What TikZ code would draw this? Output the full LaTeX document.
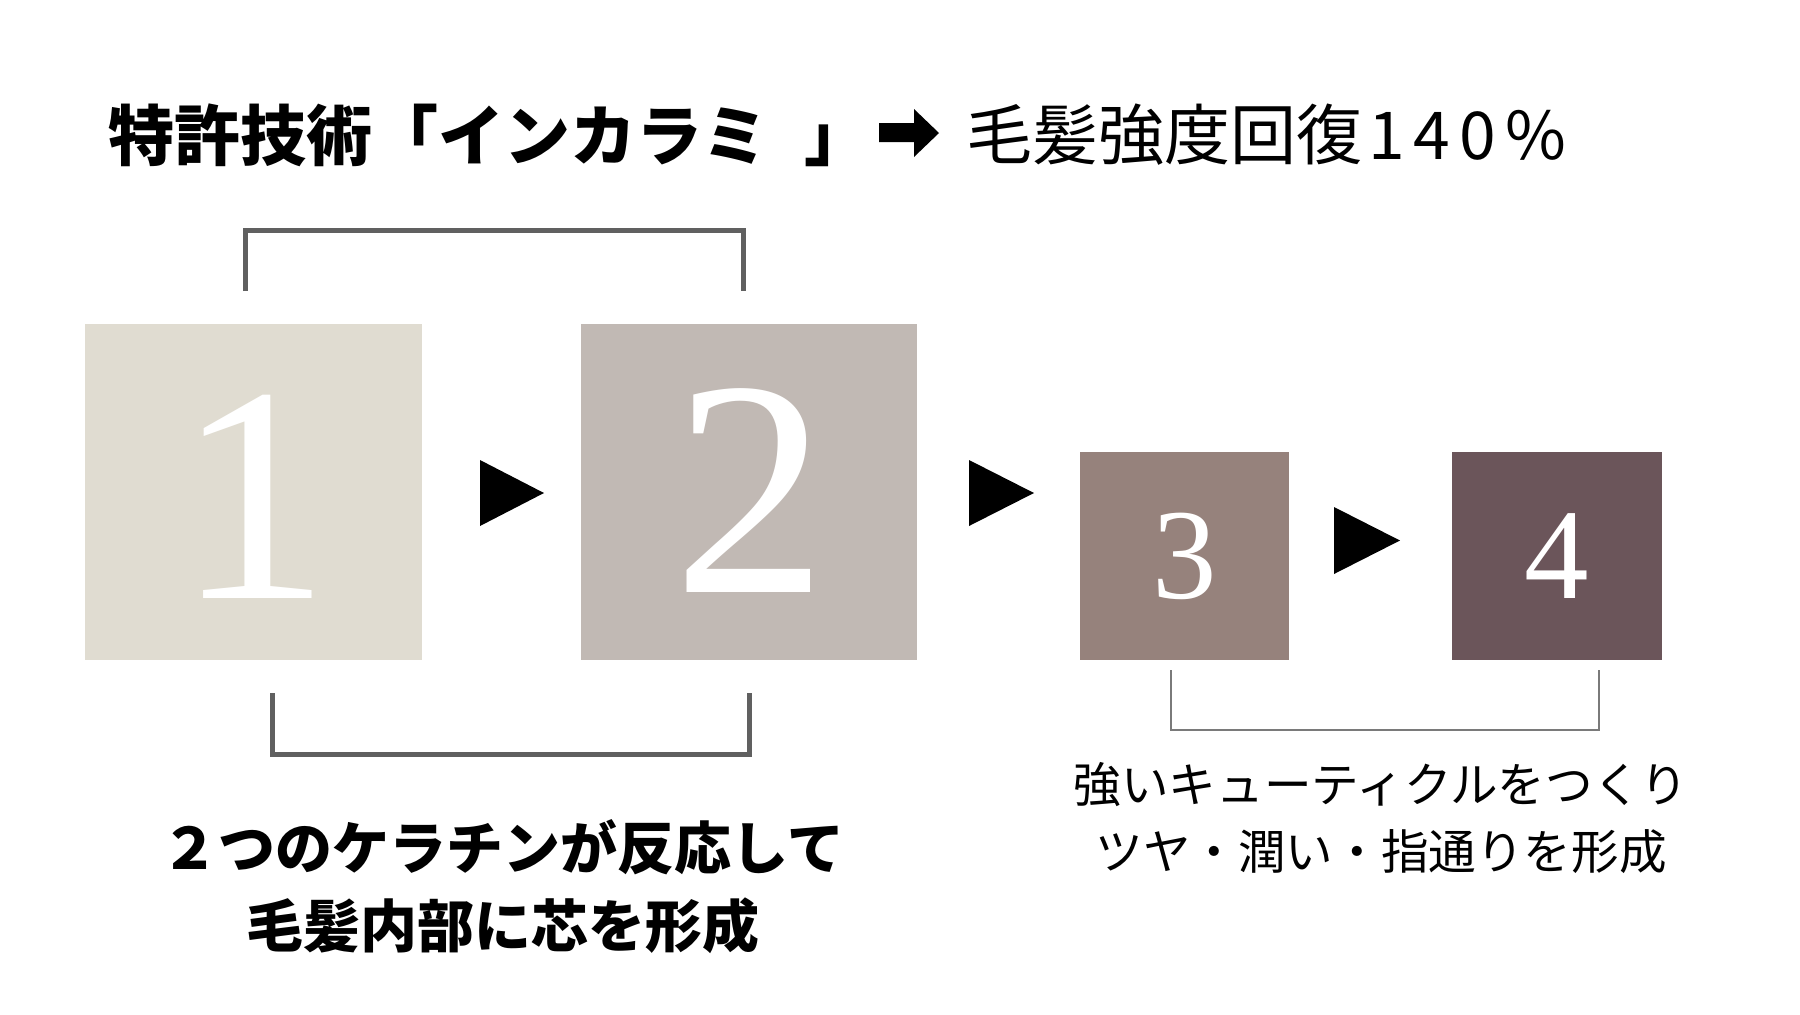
\documentclass[tikz,border=0pt]{standalone}
\usepackage{fontspec}
\newfontfamily\jp{Noto Sans CJK JP}
\newfontfamily\numfont{Liberation Serif}
\definecolor{cA}{HTML}{E0DCD1}
\definecolor{cB}{HTML}{C1B9B4}
\definecolor{cC}{HTML}{96827C}
\definecolor{cD}{HTML}{6B555A}
\definecolor{brk}{HTML}{606060}
\definecolor{brkthin}{HTML}{7A7A7A}
\begin{document}
\begin{tikzpicture}[x=1pt,y=-1pt,
  boxA/.style={fill=#1,draw=none},
  digit/.style={anchor=base,text=white,inner sep=0pt},
  tri/.style={fill=black},
  bracket/.style={draw=brk,line width=5pt},
  thinbracket/.style={draw=brkthin,line width=2pt}]
\useasboundingbox (0,0) rectangle (1800,1015);
\fill[white] (0,0) rectangle (1800,1015);
% title
\node[anchor=west,inner sep=0pt,font={\jp\bfseries\fontsize{66}{66}\selectfont}] (tl) at (108,135) {特許技術「インカラミ\hspace{36pt}」};
\fill (879,123) -- (914,123) -- (914,109) -- (939,133) -- (914,157) -- (914,142) -- (879,142) -- cycle;
\node[anchor=west,inner sep=0pt,font={\jp\fontsize{66}{66}\selectfont}] (tr) at (966,135) {毛髪強度回復\kern6pt 1\kern9pt 4\kern9pt 0\kern9pt \%};
% boxes
\fill[boxA=cA] (85,324) rectangle (422,660);
\fill[boxA=cB] (581,324) rectangle (917,660);
\fill[boxA=cC] (1080,452) rectangle (1289,660);
\fill[boxA=cD] (1452,452) rectangle (1662,660);
\node[digit] (n1) at (253,598) {\numfont\fontsize{308}{308}\selectfont 1};
\node[digit] (n2) at (750,592) {\numfont\fontsize{308}{308}\selectfont 2};
\node[digit] (n3) at (1185,598) {\numfont\fontsize{129}{129}\selectfont 3};
\node[digit] (n4) at (1557,598) {\numfont\fontsize{129}{129}\selectfont 4};
% triangles
\fill[tri] (480,460) -- (544,493) -- (480,526) -- cycle;
\fill[tri] (969,460) -- (1034,493) -- (969,526) -- cycle;
\fill[tri] (1334,507) -- (1400,540.5) -- (1334,574) -- cycle;
% brackets
\draw[bracket] (245.5,291) -- (245.5,230.5) -- (743.5,230.5) -- (743.5,291);
\draw[bracket] (272.5,693) -- (272.5,754.5) -- (749.5,754.5) -- (749.5,693);
\draw[thinbracket] (1171,670) -- (1171,730) -- (1599,730) -- (1599,670);
% captions
\node[align=center,inner sep=0pt,font={\jp\bfseries\fontsize{57}{78}\selectfont}] (capL) at (503,887) {２つのケラチンが反応して\\毛髪内部に芯を形成};
\node[align=center,inner sep=0pt,font={\jp\fontsize{47.6}{67}\selectfont}] (capR) at (1381,818) {強いキューティクルをつくり\\ツヤ・潤い・指通りを形成};
\end{tikzpicture}
\end{document}
